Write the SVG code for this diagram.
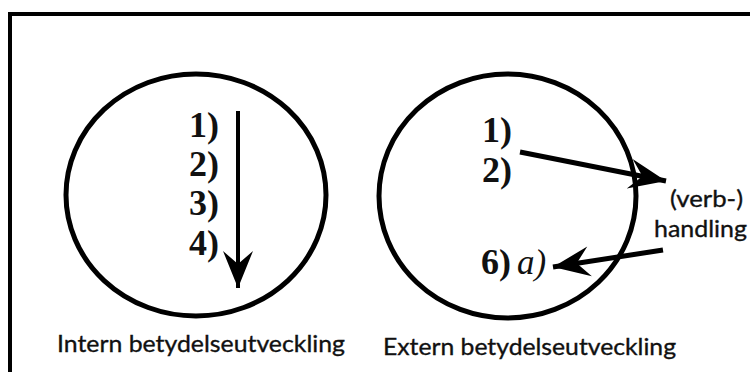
<svg xmlns="http://www.w3.org/2000/svg" width="750" height="372" viewBox="0 0 750 372">
<style>
.circ{fill:none;stroke:#000;stroke-width:5}
.num{font-family:"Liberation Serif",serif;font-weight:bold;font-size:36px;fill:#111}
.it{font-family:"Liberation Serif",serif;font-style:italic;font-size:35px;fill:#111}
.lbl{font-family:Lato,"Liberation Sans",sans-serif;font-size:24px;fill:#111;stroke:#111;stroke-width:0.35}
.conn{stroke:#000;fill:none}
</style>
<defs>
<marker id="stealth" markerUnits="userSpaceOnUse" viewBox="-40 -20 42 40" refX="0" refY="0" markerWidth="42" markerHeight="40" orient="auto">
<path d="M0,0 L-37,-15 L-24,0 L-37,15 Z" fill="#000"/>
</marker>
</defs>
<rect x="10" y="14" width="780" height="400" fill="#fff" stroke="#000" stroke-width="4"/>
<g id="intern">
<ellipse class="circ" cx="196" cy="195" rx="130" ry="121"/>
<text class="num" x="219" y="137" text-anchor="end">1)</text>
<text class="num" x="219" y="176" text-anchor="end">2)</text>
<text class="num" x="219" y="215" text-anchor="end">3)</text>
<text class="num" x="219" y="255" text-anchor="end">4)</text>
<text class="lbl" x="57" y="352" textLength="288" lengthAdjust="spacingAndGlyphs">Intern betydelseutveckling</text>
</g>
<g id="extern">
<ellipse class="circ" cx="507.5" cy="196" rx="128.5" ry="122"/>
<text class="num" x="482" y="142">1)</text>
<text class="num" x="482" y="182">2)</text>
<text class="num" x="481" y="274">6)</text>
<text class="it" x="517" y="274">a)</text>
<text class="lbl" x="383" y="355" textLength="293" lengthAdjust="spacingAndGlyphs">Extern betydelseutveckling</text>
</g>
<g id="handling">
<text class="lbl" x="670" y="207" font-size="22" textLength="73" lengthAdjust="spacingAndGlyphs">(verb-)</text>
<text class="lbl" x="654" y="237" font-size="22" textLength="93" lengthAdjust="spacingAndGlyphs">handling</text>
</g>
<g id="connectors">
<line class="conn" x1="238" y1="111" x2="238" y2="288" stroke-width="4" marker-end="url(#stealth)"/>
<line class="conn" x1="520" y1="152" x2="666" y2="181" stroke-width="5" marker-end="url(#stealth)"/>
<line class="conn" x1="663" y1="250" x2="553" y2="267" stroke-width="5" marker-end="url(#stealth)"/>
</g>
</svg>
